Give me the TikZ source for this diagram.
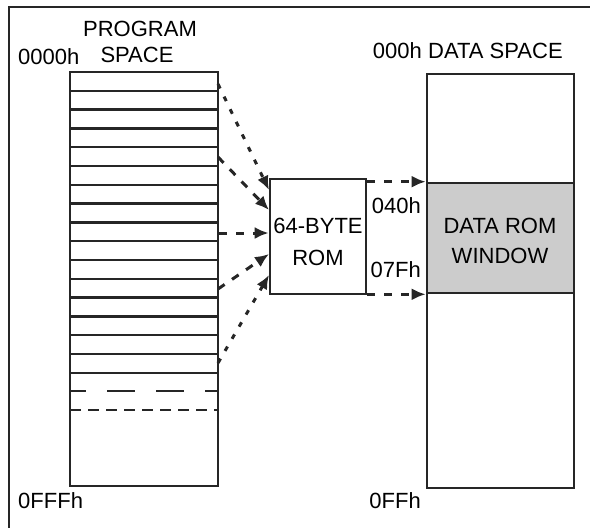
\documentclass[tikz,border=0pt]{standalone}
\usepackage{fontspec}
\setmainfont{Liberation Sans}
\usetikzlibrary{arrows.meta,positioning}

\begin{document}
\begin{tikzpicture}
  [
   x=1pt,y=-1pt,
   font=\fontsize{22}{26}\selectfont,
   box/.style={draw=black!85,line width=2.6pt,inner sep=0pt},
   row/.style={draw=black!85,line width=2.4pt},
   lbl/.style={inner sep=0pt,anchor=base},
   darr/.style={-{Latex[length=14pt,width=12pt]},line width=3pt,draw=black!85,dash pattern=on 8pt off 9pt},
   tarr/.style={-{Latex[length=14pt,width=12pt]},line width=3pt,draw=black!85,dash pattern=on 5pt off 9pt}
  ]
   \useasboundingbox (0,0) rectangle (590,528);
   % frame
   \draw[line width=2.4pt,black!85] (9,528) -- (9,7) -- (590,7);

   % program space
   \node[box,minimum width=148pt,minimum height=414pt] (prog) at (144,279) {};
   \foreach \i in {1,...,16}
     \draw[row] (70,72+\i*18.8) -- (218,72+\i*18.8);
   \draw[row,dash pattern=on 28pt off 21pt,dash phase=12pt] (70,391) -- (218,391);
   \draw[row,dash pattern=on 11pt off 7pt] (70,410) -- (218,410);

   % rom and data space
   \node[box,minimum width=96pt,minimum height=115pt] (rom) at (318,236.5) {};
   \node[box,minimum width=147pt,minimum height=414pt] (data) at (500.5,281) {};
   \node[box,fill=black!20,minimum width=147pt,minimum height=110pt] (win) at (500.5,238) {};

   % texts
   \node[lbl] (pg) at (140,36) {PROGRAM};
   \node[lbl] (ps) at (137,62) {SPACE};
   \node[lbl,anchor=base west] (a0) at (18,64) {0000h};
   \node[lbl,anchor=base west] (a1) at (18,508) {0FFFh};
   \node[lbl] (r1) at (318,233) {64-BYTE};
   \node[lbl] (r2) at (318,265) {ROM};
   \node[lbl,anchor=base west] (ds) at (428,58) {DATA SPACE};
   \node[lbl,anchor=base east] (d0) at (422,58) {000h};
   \node[lbl,anchor=base east] (d1) at (421,213) {040h};
   \node[lbl,anchor=base east] (d2) at (421,277) {07Fh};
   \node[lbl,anchor=base east] (d3) at (421,508) {0FFh};
   \node[lbl] (w1) at (500,233) {DATA ROM};
   \node[lbl] (w2) at (500,263) {WINDOW};

   % connectors
   \coordinate (p1) at (218,84);
   \coordinate (p2) at (218,157);
   \coordinate (p4) at (218,289);
   \coordinate (p5) at (218,363);
   \coordinate (q1) at (269,190);
   \coordinate (q2) at (269,210);
   \coordinate (q4) at (269,254);
   \coordinate (q5) at (269,275);
   \draw[tarr] (p1) -- (q1);
   \draw[darr] (p2) -- (q2);
   \draw[darr] (prog.east |- 0,233) -- (rom.west |- 0,233);
   \draw[darr] (p4) -- (q4);
   \draw[tarr] (p5) -- (q5);
   \draw[darr] (rom.east |- win.north west) -- (win.north west);
   \draw[darr] (rom.east |- win.south west) -- (win.south west);

\end{tikzpicture}
\end{document}
